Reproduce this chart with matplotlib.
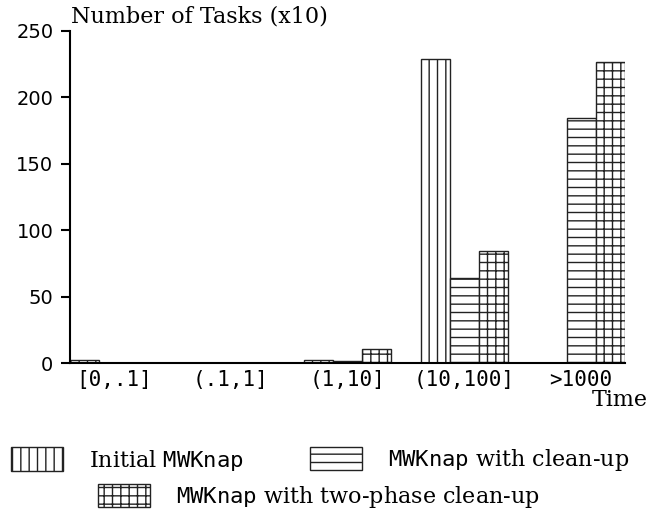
import numpy as np
import matplotlib
matplotlib.use("Agg")
import matplotlib.pyplot as plt

plt.rcParams["mathtext.fontset"] = "dejavuserif"
plt.rcParams["hatch.linewidth"] = 1.0

categories = ["[0,.1]", "(.1,1]", "(1,10]", "(10,100]", ">1000"]
initial = [2.5, 0.3, 2.5, 228.7, 0.5]
cleanup = [0.5, 0.3, 1.5, 64.4, 184.3]
twophase = [0.5, 0.3, 10.5, 84.5, 226.5]

labels = [r"Initial $\mathtt{MWKnap}$",
          r"$\mathtt{MWKnap}$ with clean-up",
          r"$\mathtt{MWKnap}$ with two-phase clean-up"]
hatches = ["||", "--", "++"]

fig = plt.figure(figsize=(6.52, 5.17), dpi=100)
ax = fig.add_axes([70 / 652, 1 - 363.3 / 517, 555 / 652, 332.3 / 517])

x = np.arange(len(categories))
w = 0.25
bars = []
for k, (vals, h) in enumerate(zip([initial, cleanup, twophase], hatches)):
    b = ax.bar(x + k * w, vals, width=w, align="edge", color="white",
               edgecolor="#222222", linewidth=1.0, hatch=h)
    bars.append(b)

ax.set_xlim(0, len(categories) - 1 + 3 * w)
ax.set_ylim(0, 250)
ax.set_yticks([0, 50, 100, 150, 200, 250])
ax.set_xticks(x + 1.5 * w)
ax.set_xticklabels(categories, family="DejaVu Sans Mono", fontsize=15)
ax.tick_params(axis="x", length=0, pad=5)
ax.tick_params(axis="y", length=6.5, width=1.5, pad=5.5, labelsize=14)
for s in ["top", "right"]:
    ax.spines[s].set_visible(False)
ax.spines["left"].set_linewidth(1.5)
ax.spines["bottom"].set_linewidth(1.5)

fig.text(71 / 652, 1 - 23 / 517, "Number of Tasks (x10)", family="DejaVu Serif",
         fontsize=16, va="baseline", ha="left")
fig.text(648 / 652, 1 - 406 / 517, "Time", family="DejaVu Serif",
         fontsize=16, va="baseline", ha="right")

# legend entries placed one by one
spots = [(11, 460), (310, 460), (98, 497)]
for b, lab, (px, py) in zip(bars, labels, spots):
    leg = fig.legend([b], [lab], loc="center left",
                     bbox_to_anchor=(px / 652, 1 - py / 517),
                     frameon=False, borderpad=0, borderaxespad=0,
                     handlelength=2.35, handleheight=1.25, handletextpad=1.15,
                     prop={"family": "DejaVu Serif", "size": 16})

fig.savefig("out.png", dpi=100)
